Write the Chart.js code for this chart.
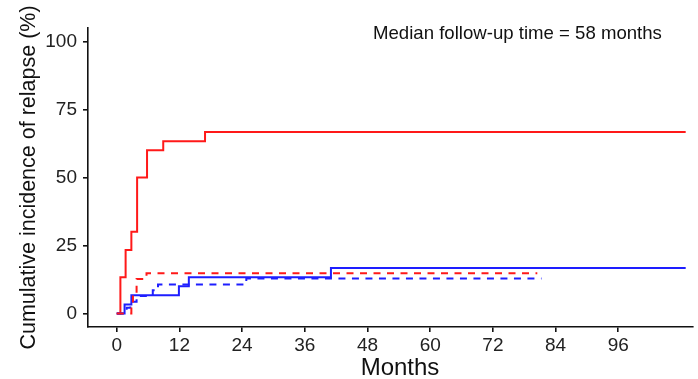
<!DOCTYPE html>
<html lang="en">
<head>
    <meta charset="UTF-8">
    <title>Cumulative incidence of relapse</title>
    <script src="https://cdn.jsdelivr.net/npm/chart.js"></script>
    <style>
        body { margin: 0; background: #fff; }
        #wrap { width: 698px; height: 379px; position: relative; }
    </style>
</head>
<body>
    <div id="wrap"><canvas id="ciChart"></canvas></div>

    <script>
        // step curves: month of each jump and the cumulative incidence (%) from that month on
        const redSolidMonths = [0, 0.7, 1.7, 2.8, 3.9, 5.8, 8.9, 16.9, 108.9];
        const redSolidCI = [0, 13.3, 23.3, 30, 50, 60, 63.3, 66.7, 66.7];

        const blueSolidMonths = [0, 1.5, 2.8, 11.9, 13.8, 41, 108.9];
        const blueSolidCI = [0, 3.3, 6.7, 10, 13.3, 16.7, 16.7];

        const redDashedMonths = [0, 2.8, 3.1, 3.8, 5.7, 80.5];
        const redDashedCI = [0, 3.7, 7.4, 12.7, 14.8, 14.8];

        const blueDashedMonths = [0, 1.9, 2.6, 3.8, 6.9, 7.9, 24.8, 81.3];
        const blueDashedCI = [0, 2.1, 4.3, 6.4, 8.5, 10.6, 12.8, 12.8];

        const xTicks = [0, 12, 24, 36, 48, 60, 72, 84, 96];
        const yTicks = [0, 25, 50, 75, 100];
        const xTitle = 'Months';
        const noteText = 'Median follow-up time = 58 months';

        const FONT = "'Liberation Sans', Arial, sans-serif";
        const RED = 'rgb(255, 25, 25)';
        const BLUE = 'rgb(30, 30, 255)';

        function toPoints(months, values) {
            return months.map((m, i) => ({ x: m, y: values[i] }));
        }

        function curve(months, values, color, dashed) {
            return {
                data: toPoints(months, values),
                borderColor: color,
                borderWidth: 2,
                borderDash: dashed ? [7, 6.5] : [],
                stepped: true,
                pointRadius: 0,
                fill: false
            };
        }

        // follow-up note in the top right corner, and the x title (sits a bit right of the panel centre)
        const textPlugin = {
            id: 'texts',
            afterDraw(chart) {
                const ctx = chart.ctx;
                ctx.save();
                ctx.fillStyle = '#111';
                ctx.textBaseline = 'alphabetic';
                ctx.font = '18.6px ' + FONT;
                ctx.textAlign = 'left';
                ctx.fillText(noteText, 373, 39);
                ctx.font = '24px ' + FONT;
                ctx.textAlign = 'center';
                ctx.fillText(xTitle, 400, 375);
                ctx.restore();
            }
        };

        const axisLine = { display: true, color: '#111', width: 1.6 };
        const tickMarks = { drawOnChartArea: false, drawTicks: true, tickLength: 5, color: '#111', lineWidth: 1.6 };

        new Chart(document.getElementById('ciChart'), {
            type: 'line',
            data: {
                datasets: [
                    curve(redDashedMonths, redDashedCI, RED, true),
                    curve(blueDashedMonths, blueDashedCI, BLUE, true),
                    curve(blueSolidMonths, blueSolidCI, BLUE, false),
                    curve(redSolidMonths, redSolidCI, RED, false)
                ]
            },
            options: {
                responsive: true,
                maintainAspectRatio: false,
                animation: false,
                layout: { padding: { left: 0, right: 5, top: 28, bottom: 0 } },
                plugins: {
                    legend: { display: false },
                    tooltip: { enabled: false }
                },
                scales: {
                    x: {
                        type: 'linear',
                        min: -5.5,
                        max: 110.3,
                        border: axisLine,
                        grid: tickMarks,
                        afterBuildTicks: scale => { scale.ticks = xTicks.map(v => ({ value: v })); },
                        afterFit: scale => { scale.height = 52; },
                        ticks: {
                            color: '#222',
                            padding: 2,
                            maxRotation: 0,
                            font: { family: FONT, size: 19 }
                        }
                    },
                    y: {
                        min: -5,
                        max: 105,
                        border: axisLine,
                        grid: tickMarks,
                        afterBuildTicks: scale => { scale.ticks = yTicks.map(v => ({ value: v })); },
                        afterFit: scale => { scale.width = 88; },
                        ticks: {
                            color: '#222',
                            padding: 6,
                            font: { family: FONT, size: 19 }
                        },
                        title: {
                            display: true,
                            text: 'Cumulative incidence of relapse (%)',
                            color: '#111',
                            padding: { top: 16, bottom: 0 },
                            font: { family: FONT, size: 21.5, lineHeight: 1.2 }
                        }
                    }
                }
            },
            plugins: [textPlugin]
        });
    </script>
</body>
</html>
